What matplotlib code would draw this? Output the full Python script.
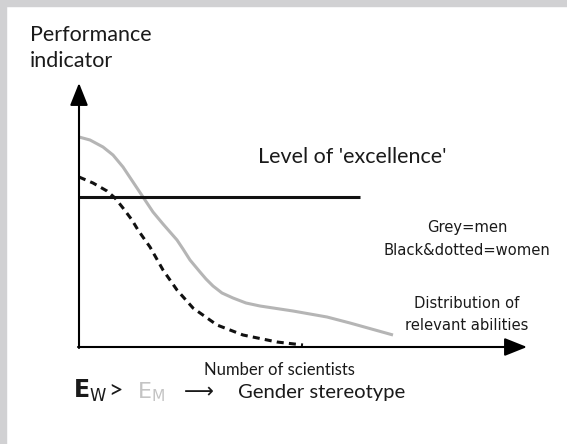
import matplotlib
matplotlib.use('Agg')
import matplotlib.pyplot as plt
from matplotlib.patches import Rectangle

# curves (x: number of scientists, y: performance)
men_x = [0, 11, 24, 34, 44, 54, 64, 74, 84, 98, 104, 111, 121, 127, 134, 143, 154, 167, 181, 214, 248, 271, 314]
men_y = [210, 207, 200, 192, 180, 165, 150, 135, 123, 107, 98, 87, 75, 68, 61, 54, 49, 44, 41, 36, 30, 24, 12]

women_x = [0, 14, 28, 36, 44, 53, 59, 66, 71, 84, 98, 114, 138, 164, 198, 224]
women_y = [170, 164, 156, 149, 139, 127, 117, 107, 100, 77, 57, 39, 22, 12, 5, 2]

excellence_y = 150
excellence_x = [0, 281]

regular = ['Lato', 'DejaVu Sans']
narrow = ['DejaVu Sans']

fig = plt.figure(figsize=(5.67, 4.44), dpi=100)
fig.patch.set_facecolor('white')
fig.patches.append(Rectangle((0, 1 - 6 / 444), 1, 6 / 444, transform=fig.transFigure,
                             color='#d1d1d3', zorder=0))
fig.patches.append(Rectangle((0, 0), 6 / 567, 1, transform=fig.transFigure,
                             color='#d1d1d3', zorder=0))

ax = fig.add_axes([0, 0, 1, 1])
ax.set_xlim(-79, 488)
ax.set_ylim(-97, 347)
ax.axis('off')
ax.patch.set_alpha(0)

# axes arrows
arrow = dict(arrowstyle='-|>,head_length=0.55,head_width=0.22', color='black',
             lw=1.5, shrinkA=0, shrinkB=0, mutation_scale=25)
ax.annotate('', xy=(0, 264), xytext=(0, -1), arrowprops=arrow)
ax.annotate('', xy=(448, 0), xytext=(-1, 0), arrowprops=arrow)

ax.plot(men_x, men_y, color='#b5b5b5', lw=2.2, solid_capstyle='butt', solid_joinstyle='round')
ax.plot(women_x, women_y, color='#111111', lw=2.2, linestyle=(0, (2.3, 1.7)))
ax.plot(excellence_x, [excellence_y] * 2, color='#111111', lw=2.2, solid_capstyle='butt')

ax.text(-49, 306, 'Performance', family=regular, fontsize=15.5,
        ha='left', va='baseline', color='#1a1a1a')
ax.text(-49, 280, 'indicator', family=regular, fontsize=15.5,
        ha='left', va='baseline', color='#1a1a1a')
ax.text(273, 184, "Level of 'excellence'", family=regular, fontsize=15.5,
        ha='center', va='baseline', color='#1a1a1a')
ax.text(388, 115, 'Grey=men', family=narrow, fontstretch='condensed', fontsize=11.8,
        ha='center', va='baseline', color='#1a1a1a')
ax.text(388, 92, 'Black&dotted=women', family=narrow, fontstretch='condensed', fontsize=11.8,
        ha='center', va='baseline', color='#1a1a1a')
ax.text(388, 39, 'Distribution of', family=narrow, fontstretch='condensed',
        fontsize=11.8, ha='center', va='baseline', color='#1a1a1a')
ax.text(388, 17, 'relevant abilities', family=narrow, fontstretch='condensed',
        fontsize=11.8, ha='center', va='baseline', color='#1a1a1a')
ax.text(200, -28, 'Number of scientists', family=regular, fontsize=12,
        ha='center', va='baseline', color='#1a1a1a')

# bottom line: E_W > E_M  -> Gender stereotype
ax.text(-6, -51, r'$\mathbf{E}_{\mathrm{W}}$', fontsize=17, ha='left', va='baseline',
        color='#1a1a1a', math_fontfamily='dejavusans')
ax.text(29, -51, '>', family=regular, fontsize=18, ha='left',
        va='baseline', color='#1a1a1a')
ax.text(58, -51, r'$\mathrm{E}_{\mathrm{M}}$', fontsize=16, ha='left', va='baseline',
        color='#c4c4c4', math_fontfamily='dejavusans')
ax.text(105, -51, '\u27f6', family=['DejaVu Sans'], fontsize=15, ha='left', va='baseline',
        color='#1a1a1a')
ax.text(159, -51, 'Gender stereotype', family=regular, fontsize=14.6, ha='left',
        va='baseline', color='#1a1a1a')

plt.savefig('out.png', dpi=100)
